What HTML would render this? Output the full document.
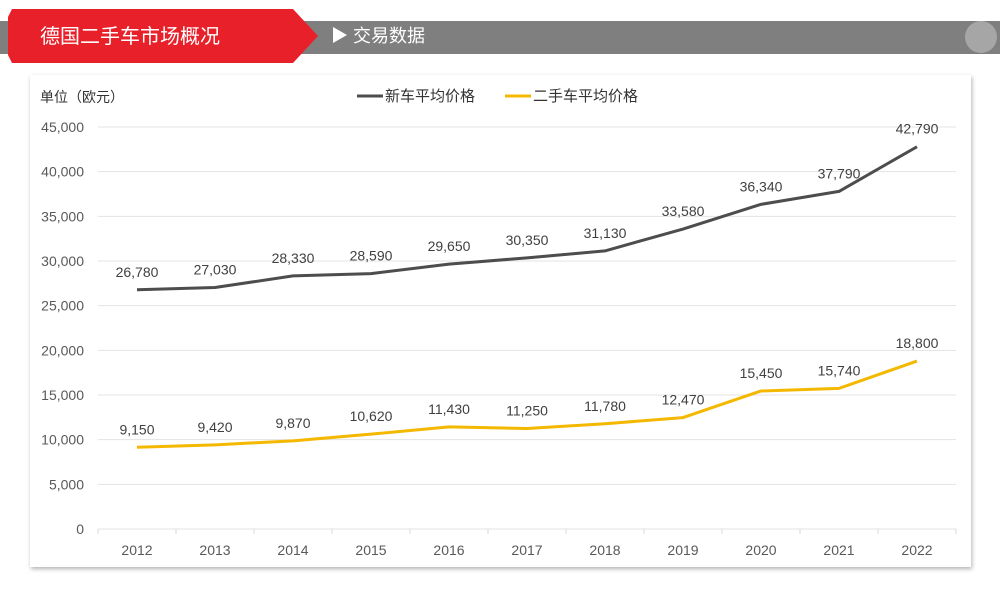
<!DOCTYPE html>
<html><head><meta charset="utf-8"><style>
body{margin:0;width:1000px;height:585px;background:#fff;overflow:hidden;font-family:"Liberation Sans","Noto Sans CJK SC",sans-serif;}
svg text{font-family:"Liberation Sans","Noto Sans CJK SC",sans-serif;}
</style></head><body>
<svg width="1000" height="585">
<defs><filter id="sh" x="-5%" y="-5%" width="110%" height="110%"><feDropShadow dx="1" dy="2" stdDeviation="2" flood-color="#000" flood-opacity="0.3"/></filter></defs>
<rect x="0" y="21" width="1000" height="33" fill="#7f7f7f"/>
<polygon points="12,9 293,9 318,36 293,63 12,63 8,55 8,17" fill="#e8202a"/>
<text x="40" y="43" font-size="20" fill="#fff">德国二手车市场概况</text>
<polygon points="333,27 347,35 333,43" fill="#fff"/>
<text x="353" y="42" font-size="18" fill="#fff">交易数据</text>
<circle cx="981" cy="37" r="16" fill="#a6a6a6"/>
<rect x="30" y="75" width="941" height="492" fill="#fff" filter="url(#sh)"/>
<text x="40" y="102" font-size="14" fill="#333">单位（欧元）</text>
<line x1="357" y1="96" x2="383" y2="96" stroke="#4d4d4d" stroke-width="3"/>
<text x="385" y="101" font-size="15" fill="#333">新车平均价格</text>
<line x1="505" y1="96" x2="531" y2="96" stroke="#f5b800" stroke-width="3"/>
<text x="533" y="101" font-size="15" fill="#333">二手车平均价格</text>
<g id="plot"></g>
</svg>
<script>
const years=["2012","2013","2014","2015","2016","2017","2018","2019","2020","2021","2022"];
const newCar=[26780,27030,28330,28590,29650,30350,31130,33580,36340,37790,42790];
const usedCar=[9150,9420,9870,10620,11430,11250,11780,12470,15450,15740,18800];
const yTicks=[0,5000,10000,15000,20000,25000,30000,35000,40000,45000];
const X0=98,X1=956,Y0=529,Y1=127,MAX=45000;
const step=(X1-X0)/years.length;
const x=i=>X0+step*(i+0.5);
const y=v=>Y0-(v/MAX)*(Y0-Y1);
const g=document.getElementById('plot');
const NS='http://www.w3.org/2000/svg';
function mk(t,a){const e=document.createElementNS(NS,t);for(const k in a)e.setAttribute(k,a[k]);g.appendChild(e);return e;}
const fmt=v=>v.toLocaleString('en-US');
yTicks.forEach(v=>{
 const l=mk('line',{x1:X0,x2:X1,y1:y(v),y2:y(v),stroke:'#e3e3e3','stroke-width':1});
 
 
 const t=mk('text',{x:84,y:y(v)+5,'font-size':14,fill:'#595959','text-anchor':'end'});
 t.textContent=fmt(v);
 
 
});
for(let i=0;i<=years.length;i++){
 const tk=mk('line',{x1:X0+step*i,x2:X0+step*i,y1:Y0,y2:Y0+5,stroke:'#d9d9d9'});
 
 
}
years.forEach((yr,i)=>{
 const t=mk('text',{x:x(i),y:555,'font-size':14,fill:'#595959','text-anchor':'middle'});
 t.textContent=yr;
 
 
});
function series(data,color,name){
 const p=mk('polyline',{points:data.map((v,i)=>x(i)+','+y(v)).join(' '),fill:'none',stroke:color,'stroke-width':3,'stroke-linejoin':'round'});
 
 
 data.forEach((v,i)=>{
  const t=mk('text',{x:x(i),y:y(v)-13,'font-size':14,fill:'#404040','text-anchor':'middle'});
  t.textContent=fmt(v);
  
  
 });
}
series(newCar,'#4d4d4d','new-car');
series(usedCar,'#f5b800','used-car');
</script>
</body></html>
